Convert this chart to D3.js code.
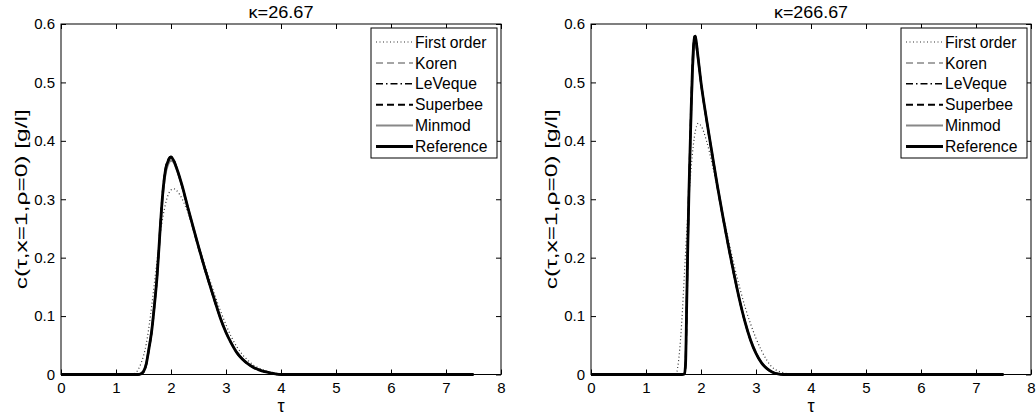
<!DOCTYPE html>
<html>
<head>
<meta charset="utf-8">
<script src="https://cdn.jsdelivr.net/npm/d3@7/dist/d3.min.js"></script>
<style>
    body { margin: 0; background: #fff; }
    svg { display: block; }
    text { font-family: Arial, "Liberation Sans", sans-serif; fill: #000; }
</style>
</head>
<body>
<svg width="1036" height="417"></svg>
<script>
// --- data ---
const xTicks = [0, 1, 2, 3, 4, 5, 6, 7, 8];
const yTicks = [0, 0.1, 0.2, 0.3, 0.4, 0.5, 0.6];
const titles = ["\u03ba=26.67", "\u03ba=266.67"];
const seriesNames = ["First order", "Koren", "LeVeque", "Superbee", "Minmod", "Reference"];

// left panel (kappa = 26.67)
const tauA = [0, 1.30, 1.35, 1.40, 1.45, 1.50, 1.55, 1.60, 1.65, 1.70, 1.75, 1.80, 1.85, 1.90, 1.95, 2.00,
    2.05, 2.10, 2.20, 2.30, 2.40, 2.50, 2.60, 2.70, 2.80, 2.90, 3.00, 3.10, 3.20, 3.30, 3.40, 3.50,
    3.60, 3.70, 3.80, 3.90, 4.00, 4.20, 7.50];
const firstOrderA = [0, 0, 0.002, 0.008, 0.018, 0.032, 0.052, 0.082, 0.118, 0.158, 0.198, 0.236, 0.268, 0.292, 0.308, 0.316,
    0.318, 0.315, 0.301, 0.279, 0.252, 0.222, 0.192, 0.163, 0.135, 0.109, 0.085, 0.064, 0.047, 0.034, 0.024, 0.016,
    0.011, 0.007, 0.004, 0.002, 0.001, 0, 0];
const korenA = [0, 0, 0, 0, 0.001, 0.005, 0.018, 0.045, 0.076, 0.121, 0.173, 0.244, 0.309, 0.348, 0.364, 0.370,
    0.365, 0.353, 0.323, 0.288, 0.253, 0.219, 0.186, 0.155, 0.125, 0.096, 0.072, 0.053, 0.038, 0.026, 0.018, 0.012,
    0.008, 0.005, 0.003, 0.001, 0, 0, 0];
const levequeA = [0, 0, 0, 0, 0.001, 0.005, 0.018, 0.045, 0.075, 0.120, 0.172, 0.244, 0.309, 0.349, 0.365, 0.371,
    0.366, 0.354, 0.324, 0.288, 0.253, 0.219, 0.186, 0.155, 0.125, 0.096, 0.072, 0.053, 0.037, 0.026, 0.018, 0.012,
    0.008, 0.005, 0.003, 0.001, 0, 0, 0];
const superbeeA = [0, 0, 0, 0, 0.001, 0.004, 0.017, 0.044, 0.074, 0.120, 0.173, 0.246, 0.312, 0.352, 0.368, 0.373,
    0.367, 0.354, 0.323, 0.287, 0.252, 0.218, 0.185, 0.154, 0.124, 0.096, 0.072, 0.053, 0.037, 0.026, 0.018, 0.012,
    0.008, 0.005, 0.003, 0.001, 0, 0, 0];
const minmodA = [0, 0, 0, 0, 0.002, 0.006, 0.020, 0.047, 0.078, 0.122, 0.172, 0.241, 0.304, 0.343, 0.360, 0.366,
    0.363, 0.352, 0.323, 0.289, 0.254, 0.220, 0.187, 0.156, 0.126, 0.097, 0.073, 0.054, 0.038, 0.027, 0.018, 0.012,
    0.008, 0.005, 0.003, 0.001, 0, 0, 0];
const referenceA = [0, 0, 0, 0, 0.001, 0.005, 0.018, 0.045, 0.075, 0.120, 0.172, 0.245, 0.310, 0.350, 0.366, 0.372,
    0.366, 0.354, 0.324, 0.288, 0.253, 0.219, 0.186, 0.155, 0.125, 0.096, 0.072, 0.053, 0.037, 0.026, 0.018, 0.012,
    0.008, 0.005, 0.003, 0.001, 0, 0, 0];

// right panel (kappa = 266.67)
const tauB = [0, 1.50, 1.55, 1.60, 1.65, 1.70, 1.72, 1.74, 1.76, 1.78, 1.80, 1.82, 1.84, 1.86, 1.88, 1.90,
    1.92, 1.95, 2.00, 2.10, 2.20, 2.30, 2.40, 2.50, 2.60, 2.70, 2.80, 2.90, 3.00, 3.10, 3.20, 3.30,
    3.40, 3.50, 3.60, 3.70, 7.50];
const firstOrderB = [0, 0, 0.002, 0.030, 0.090, 0.175, 0.210, 0.243, 0.275, 0.303, 0.330, 0.353, 0.374, 0.392, 0.407, 0.418,
    0.425, 0.430, 0.426, 0.400, 0.362, 0.318, 0.274, 0.230, 0.188, 0.150, 0.116, 0.087, 0.062, 0.041, 0.024, 0.012,
    0.006, 0.003, 0.001, 0, 0];
const korenB = [0, 0, 0, 0, 0, 0.001, 0.021, 0.121, 0.220, 0.309, 0.378, 0.447, 0.506, 0.550, 0.572, 0.575,
    0.563, 0.539, 0.500, 0.437, 0.379, 0.322, 0.269, 0.219, 0.172, 0.128, 0.090, 0.059, 0.036, 0.020, 0.010, 0.004,
    0.001, 0, 0, 0, 0];
const levequeB = [0, 0, 0, 0, 0, 0.001, 0.020, 0.120, 0.220, 0.310, 0.380, 0.450, 0.510, 0.553, 0.575, 0.577,
    0.564, 0.540, 0.500, 0.437, 0.379, 0.322, 0.269, 0.219, 0.172, 0.128, 0.090, 0.059, 0.036, 0.020, 0.010, 0.004,
    0.001, 0, 0, 0, 0];
const superbeeB = [0, 0, 0, 0, 0, 0.001, 0.019, 0.119, 0.221, 0.312, 0.383, 0.454, 0.514, 0.558, 0.579, 0.580,
    0.566, 0.541, 0.500, 0.436, 0.378, 0.321, 0.268, 0.218, 0.171, 0.128, 0.090, 0.059, 0.036, 0.020, 0.010, 0.004,
    0.001, 0, 0, 0, 0];
const minmodB = [0, 0, 0, 0, 0, 0.002, 0.024, 0.124, 0.218, 0.304, 0.370, 0.436, 0.492, 0.535, 0.559, 0.566,
    0.558, 0.537, 0.499, 0.438, 0.380, 0.323, 0.270, 0.220, 0.173, 0.129, 0.091, 0.060, 0.037, 0.021, 0.010, 0.004,
    0.001, 0, 0, 0, 0];
const referenceB = [0, 0, 0, 0, 0, 0.001, 0.020, 0.120, 0.220, 0.310, 0.380, 0.450, 0.510, 0.555, 0.577, 0.578,
    0.565, 0.540, 0.500, 0.437, 0.379, 0.322, 0.269, 0.219, 0.172, 0.128, 0.090, 0.059, 0.036, 0.020, 0.010, 0.004,
    0.001, 0, 0, 0, 0];

const panels = [
    { title: titles[0], tau: tauA, values: [firstOrderA, korenA, levequeA, superbeeA, minmodA, referenceA] },
    { title: titles[1], tau: tauB, values: [firstOrderB, korenB, levequeB, superbeeB, minmodB, referenceB] }
];

// line styles, same order as seriesNames
const styles = [
    { stroke: "#333", width: 1.2, dash: "1,2.5" },
    { stroke: "#888", width: 1.5, dash: "7,4" },
    { stroke: "#000", width: 1.5, dash: "7,3,1.5,3" },
    { stroke: "#000", width: 2, dash: "7,4" },
    { stroke: "#888", width: 2, dash: null },
    { stroke: "#000", width: 2.8, dash: null }
];

const svg = d3.select("svg");
const plotW = 440, plotH = 350.5, marginTop = 24;
const lefts = [61, 591];
const tickFs = 15, legendFs = 15.7;

panels.forEach((p, i) => {
    const g = svg.append("g").attr("transform", `translate(${lefts[i]},${marginTop})`);

    const x = d3.scaleLinear().domain([0, 8]).range([0, plotW]);
    const y = d3.scaleLinear().domain([0, 0.6]).range([plotH, 0]);

    // curves (reference drawn last, on top)
    const line = d3.line()
        .x((d, k) => x(p.tau[k]))
        .y(d => y(d))
        .curve(d3.curveMonotoneX);

    p.values.forEach((vals, s) => {
        const st = styles[s];
        g.append("path")
            .datum(vals)
            .attr("d", line)
            .attr("fill", "none")
            .attr("stroke", st.stroke)
            .attr("stroke-width", st.width)
            .attr("stroke-dasharray", st.dash)
            .attr("stroke-linejoin", "round");
    });

    // axes, MATLAB style: ticks inside, mirrored on top/right
    const ax = (axis, t) => g.append("g").attr("transform", t).call(axis)
        .call(s => s.select(".domain").remove())
        .call(s => s.selectAll("line").attr("stroke", "#000"));

    ax(d3.axisBottom(x).tickValues(xTicks).tickSize(-5).tickPadding(8).tickFormat(d3.format("d")), `translate(0,${plotH})`)
        .selectAll("text").attr("font-size", tickFs).attr("dy", "0.71em");
    ax(d3.axisTop(x).tickValues(xTicks).tickSize(-5).tickFormat(""), "translate(0,0)");
    ax(d3.axisLeft(y).tickValues(yTicks).tickSize(-5).tickPadding(6).tickFormat(d => d === 0 ? "0" : d3.format(".1f")(d)), "translate(0,0)")
        .selectAll("text").attr("font-size", tickFs);
    ax(d3.axisRight(y).tickValues(yTicks).tickSize(-5).tickFormat(""), `translate(${plotW},0)`);

    g.append("rect")
        .attr("width", plotW).attr("height", plotH)
        .attr("fill", "none").attr("stroke", "#000").attr("stroke-width", 1);

    const title = g.append("text")
        .attr("x", plotW / 2).attr("y", -6)
        .attr("text-anchor", "middle").attr("font-size", 16)
        .text(p.title);
    title.attr("textLength", i === 0 ? 65 : 74).attr("lengthAdjust", "spacingAndGlyphs");

    g.append("text")
        .attr("x", plotW / 2).attr("y", plotH + 37)
        .attr("text-anchor", "middle").attr("font-size", 18)
        .text("\u03c4");

    g.append("text")
        .attr("transform", `translate(-34,${plotH / 2}) rotate(-90)`)
        .attr("text-anchor", "middle").attr("font-size", 16.5)
        .attr("textLength", 180).attr("lengthAdjust", "spacingAndGlyphs")
        .text("c(\u03c4,x=1,\u03c1=0) [g/l]");

    // legend
    const lg = g.append("g").attr("transform", `translate(${plotW - 130},4)`);
    lg.append("rect")
        .attr("width", 126).attr("height", 130)
        .attr("fill", "#fff").attr("stroke", "#000").attr("stroke-width", 1);
    seriesNames.forEach((name, s) => {
        const st = styles[s];
        const yy = 14 + s * 20.9;
        lg.append("line")
            .attr("x1", 5).attr("x2", 42).attr("y1", yy).attr("y2", yy)
            .attr("stroke", st.stroke).attr("stroke-width", st.width)
            .attr("stroke-dasharray", st.dash);
        lg.append("text")
            .attr("x", 44).attr("y", yy).attr("dy", "0.36em")
            .attr("font-size", legendFs)
            .text(name);
    });
});
</script>
</body>
</html>
